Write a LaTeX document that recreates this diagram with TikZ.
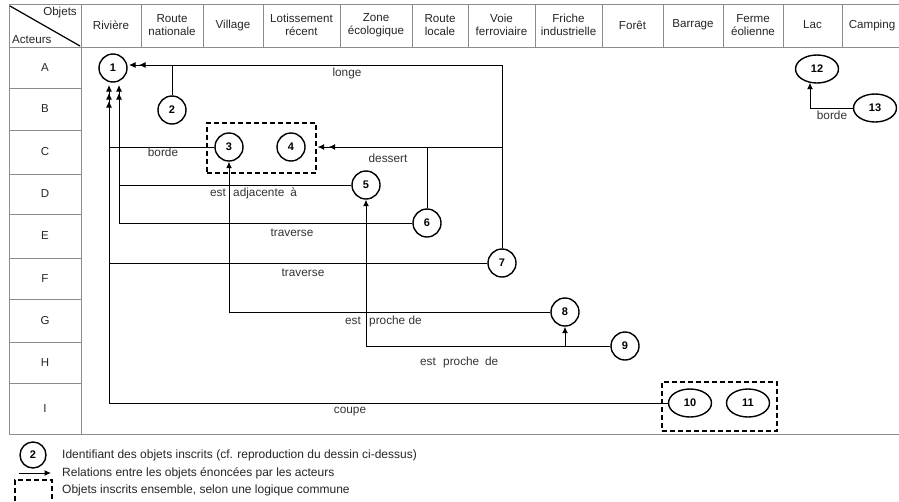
\documentclass[tikz,border=0pt]{standalone}
\usepackage{fontspec}
\setmainfont{Liberation Sans}
\usetikzlibrary{arrows.meta,calc,shapes.geometric}
\begin{document}
\begin{tikzpicture}[x=1pt,y=-1pt,
  gridline/.style={draw=black!45,line width=1pt},
  hdr/.style={font=\fontsize{11.6}{13}\selectfont,align=center,text=black!85,inner sep=0},
  rowlbl/.style={font=\fontsize{11.5}{13}\selectfont,text=black!85,inner sep=0},
  obj/.style={draw,circle,line width=1.4pt,minimum size=28pt,inner sep=0,font=\fontsize{11}{12}\selectfont\bfseries},
  objell/.style={draw,ellipse,line width=1.4pt,minimum width=43pt,minimum height=28pt,inner sep=0,font=\fontsize{11}{12}\selectfont\bfseries},
  rel/.style={line width=1pt,-{Latex[length=6.5pt,width=6pt]}},
  lbl/.style={font=\fontsize{11.8}{13}\selectfont,text=black!80,inner sep=0},
  leg/.style={font=\fontsize{12}{13}\selectfont,text=black!85,inner sep=0,anchor=west},
  grp/.style={draw,dash pattern=on 5pt off 3pt,line width=1.3pt,inner sep=0}
]
\useasboundingbox (0,0) rectangle (899,501);
\clip (0,0) rectangle (899,501);
\fill[white] (0,0) rectangle (899,501);

% ---- table ----
\draw[gridline] (9,4) -- (899,4);
\draw[gridline] (9,47) -- (899,47);
\draw[gridline] (9,434) -- (899,434);
\draw[gridline] (9,4) -- (9,434);
\draw[gridline] (81,4) -- (81,434);
\foreach \x in {141,203,263,340,412,468,535,602,663,723,783,842}
  \draw[gridline] (\x,4) -- (\x,47);
\foreach \y in {88,130,174,214,258,299,342,383}
  \draw[gridline] (9,\y) -- (81,\y);
\draw[line width=1.2pt] (10,6) -- (80,46);
\node[hdr,anchor=east] (hobj) at (77,12) {Objets};
\node[hdr,anchor=west] (hact) at (12,40) {Acteurs};

\node[hdr] (h1) at (111,25) {Rivière};
\node[hdr] (h2) at (172,25) {Route\\nationale};
\node[hdr] (h3) at (233,25) {Village};
\node[hdr] (h4) at (301.5,25) {Lotissement\\récent};
\node[hdr] (h5) at (376,25) {Zone\\écologique};
\node[hdr] (h6) at (440,25) {Route\\locale};
\node[hdr] (h7) at (501.5,25) {Voie\\ferroviaire};
\node[hdr] (h8) at (568.5,25) {Friche\\industrielle};
\node[hdr] (h9) at (632.5,25) {Forêt};
\node[hdr] (h10) at (693,25) {Barrage};
\node[hdr] (h11) at (753,25) {Ferme\\éolienne};
\node[hdr] (h12) at (812.5,25) {Lac};
\node[hdr] (h13) at (872,25) {Camping};

\node[rowlbl] (rA) at (45,67.5) {A};
\node[rowlbl] (rB) at (45,109) {B};
\node[rowlbl] (rC) at (45,152) {C};
\node[rowlbl] (rD) at (45,194) {D};
\node[rowlbl] (rE) at (45,236) {E};
\node[rowlbl] (rF) at (45,278.5) {F};
\node[rowlbl] (rG) at (45,320.5) {G};
\node[rowlbl] (rH) at (45,362.5) {H};
\node[rowlbl] (rI) at (45,408.5) {I};

% ---- objects ----
\node[obj] (n1) at (113,68) {1};
\node[obj] (n2) at (172,110) {2};
\node[obj] (n3) at (229,147) {3};
\node[obj] (n4) at (291,147) {4};
\node[obj] (n5) at (366,185) {5};
\node[obj] (n6) at (427,223) {6};
\node[obj] (n7) at (502,263) {7};
\node[obj] (n8) at (565,312) {8};
\node[obj] (n9) at (625,346) {9};
\node[objell] (n10) at (690,403) {10};
\node[objell] (n11) at (748,403) {11};
\node[objell] (n12) at (817,69) {12};
\node[objell] (n13) at (875,108) {13};

\node[grp,minimum width=109pt,minimum height=50pt] (g34) at (261.5,148) {};
\node[grp,minimum width=115pt,minimum height=49pt] (g1011) at (719.5,406.5) {};

% ---- arrow tips ----
\coordinate (t1a) at ($(n1)+(16,-3)$);
\coordinate (t1b) at ($(n1)+(26,-3)$);
\coordinate (t1c) at ($(n1)+(-4,17)$);
\coordinate (t1d) at ($(n1)+(-4,25)$);
\coordinate (t1e) at ($(n1)+(-4,33)$);
\coordinate (t1f) at ($(n1)+(6,17)$);
\coordinate (t1g) at ($(n1)+(6,25)$);
\coordinate (tg2) at ($(g34.east)+(12,-1)$);
\coordinate (tg1) at ($(g34.east)+(1,-1)$);
\coordinate (t12) at ($(n12.south)+(-7,-1)$);

% ---- relations ----
\draw[rel] (n7.north) |- (t1a);
\draw[rel] (n2.north) |- (t1b);
\draw[rel] (n10.west) -| (t1c);
\draw[rel] (n7.west) -| (t1d);
\draw[rel] (n3.west) -| (t1e);
\draw[rel] (n6.west) -| (t1f);
\draw[rel] (n5.west) -| (t1g);
\draw[rel] (n7.north) |- (tg1);
\draw[rel] (n6.north) |- (tg2);
\draw[rel] (n8.west) -| (n3.south);
\draw[rel] (n9.west) -| (n5.south);
\draw[rel] (n9.west) -| (n8.south);
\draw[rel] (n13.west) -| (t12);

% ---- relation labels ----
\node[lbl] (l1) at (347,73) {longe};
\node[lbl] (l2) at (163,152) {borde};
\node[lbl] (l3) at (388,158) {dessert};
\node[lbl,anchor=east] (l4a) at (226,193) {est};
\node[lbl,anchor=west] (l4b) at (233,193) {adjacente\enspace à};
\node[lbl] (l5) at (292,233) {traverse};
\node[lbl] (l6) at (303,273) {traverse};
\node[lbl,anchor=east] (l7a) at (361,321) {est};
\node[lbl,anchor=west] (l7b) at (369,321) {proche de};
\node[lbl,anchor=east] (l8a) at (436,362) {est};
\node[lbl,anchor=west] (l8b) at (443,362) {proche\enspace de};
\node[lbl] (l9) at (350,412) {coupe};
\node[lbl] (l10) at (832,115) {borde};

% ---- legend ----
\node[obj,minimum size=26pt] (k1) at (33,455) {2};
\coordinate (k2a) at (19,473);
\coordinate (k2b) at (51,473);
\draw[rel] (k2a) -- (k2b);
\node[grp,minimum width=37pt,minimum height=30pt] (k3) at (33.5,495) {};
\node[leg] (kt1) at (62,455) {Identifiant des objets inscrits (cf. reproduction du dessin ci-dessus)};
\node[leg] (kt2) at (62,473) {Relations entre les objets énoncées par les acteurs};
\node[leg] (kt3) at (62,490) {Objets inscrits ensemble, selon une logique commune};
\end{tikzpicture}
\end{document}
